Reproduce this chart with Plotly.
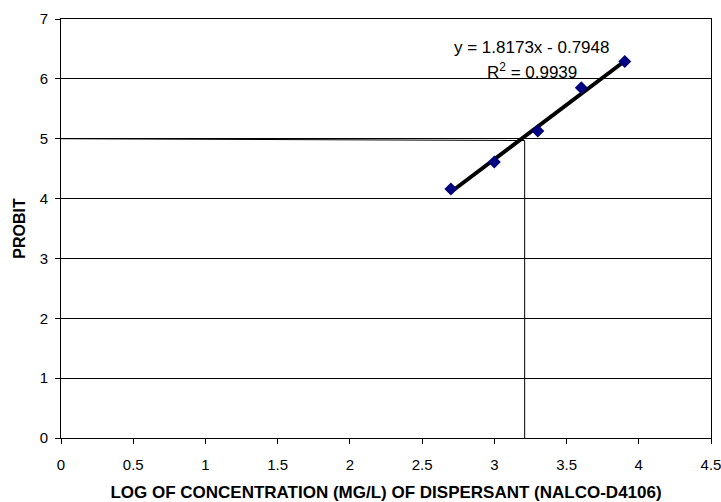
import numpy as np
import plotly.graph_objects as go

log_conc = [2.699, 3.0, 3.301, 3.602, 3.903]
probit = [4.16, 4.61, 5.13, 5.85, 6.29]
slope = 1.8173
intercept = -0.7948
ref_x = [0, 3.21, 3.21]
ref_y = [5.0, 4.97, 0]
x_ticks = [0, 0.5, 1, 1.5, 2, 2.5, 3, 3.5, 4, 4.5]
y_ticks = [0, 1, 2, 3, 4, 5, 6, 7]

fit_x = np.array([min(log_conc), max(log_conc)])
fit_y = slope * fit_x + intercept

FONT = "Liberation Sans, Arial"

fig = go.Figure()
fig.add_trace(go.Scatter(x=ref_x, y=ref_y, mode="lines",
                         line=dict(color="black", width=1), showlegend=False, hoverinfo="skip"))
fig.add_trace(go.Scatter(x=fit_x, y=fit_y, mode="lines",
                         line=dict(color="black", width=4), showlegend=False))
fig.add_trace(go.Scatter(x=log_conc, y=probit, mode="markers",
                         marker=dict(symbol="diamond", size=10, color="#000080"), showlegend=False))

fig.add_annotation(x=3.26, y=6.52, xref="x", yref="y", showarrow=False,
                   text="y = 1.8173x - 0.7948", font=dict(family=FONT, size=17, color="black"))
fig.add_annotation(x=3.26, y=6.13, xref="x", yref="y", showarrow=False,
                   text="R<sup>2</sup> = 0.9939", font=dict(family=FONT, size=17, color="black"))

fig.update_layout(
    width=721, height=502,
    margin=dict(l=61, r=10, t=19, b=64),
    paper_bgcolor="white", plot_bgcolor="white",
    font=dict(family=FONT, size=15, color="black"),
    xaxis=dict(range=[0, 4.5], tickvals=x_ticks, ticktext=[str(v) for v in x_ticks],
               automargin=False, ticklabeloverflow="allow",
               showgrid=False, zeroline=False, showline=True, linecolor="black", linewidth=1,
               mirror=True, ticks="outside", ticklen=5, tickcolor="black",
               tickfont=dict(size=15), ticklabelstandoff=8,
               title=dict(text="<b>LOG OF CONCENTRATION (MG/L) OF DISPERSANT (NALCO-D4106)</b>",
                          font=dict(size=17), standoff=15)),
    yaxis=dict(range=[0, 7], tickvals=y_ticks, showgrid=True, gridcolor="black", gridwidth=1,
               automargin=False, ticklabeloverflow="allow",
               zeroline=False, showline=True, linecolor="black", linewidth=1, mirror=True,
               ticks="outside", ticklen=5, tickcolor="black",
               tickfont=dict(size=15), ticklabelstandoff=4,
               title=dict(text="<b>PROBIT</b>", font=dict(size=16), standoff=10)),
)

fig.write_html("out.html", post_script="document.body.style.margin='0px';",
               config={"displayModeBar": False})
